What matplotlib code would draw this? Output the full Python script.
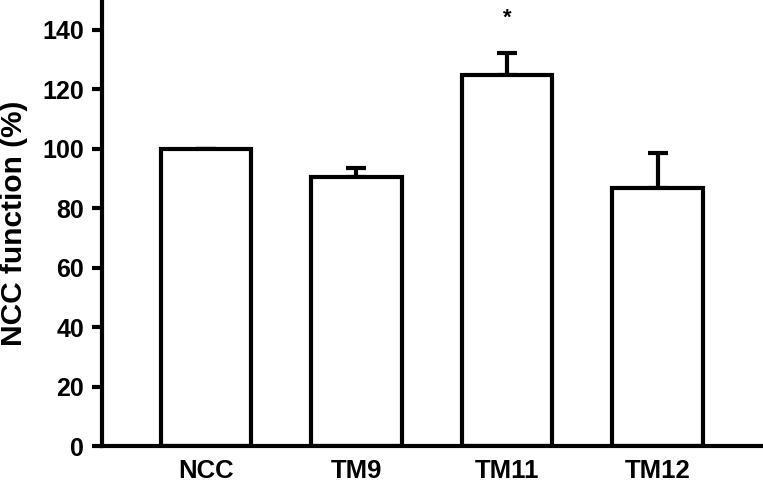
import matplotlib.pyplot as plt
import numpy as np

plt.rcParams['font.family'] = ['Liberation Sans', 'DejaVu Sans']
plt.rcParams['font.weight'] = 'bold'

groups = ["NCC", "TM9", "TM11", "TM12"]
means = [100, 90.5, 124.8, 86.8]
errors = [0, 3.1, 7.5, 11.8]
stars = ["", "", "*", ""]

fig = plt.figure(figsize=(7.63, 4.83), dpi=100)
ax = fig.add_axes([0.1337, 0.0766, 0.8663, 0.9234])

x = np.arange(len(groups))
ax.bar(x, means, width=0.6, color="white", edgecolor="black", linewidth=3, zorder=2)
ax.errorbar(x, means, yerr=[np.zeros(len(errors)), errors], fmt="none",
            ecolor="black", elinewidth=3, capsize=7, capthick=3, zorder=1)

for xi, m, e, s in zip(x, means, errors, stars):
    if s:
        ax.text(xi, m + e + 8, s, ha="center", va="bottom", fontsize=16, fontweight="bold")

ax.set_xlim(-0.69, 3.70)
ax.set_ylim(0, 150)
ax.set_yticks(np.arange(0, 141, 20))
ax.set_xticks(x)
ax.set_xticklabels(groups)
ax.set_ylabel("NCC function (%)", fontsize=21.5, fontweight="bold", labelpad=10)

ax.spines["top"].set_visible(False)
ax.spines["right"].set_visible(False)
ax.spines["left"].set_linewidth(3)
ax.spines["bottom"].set_linewidth(3)
ax.tick_params(axis="y", direction="out", length=7, width=3, labelsize=18, pad=6)
ax.tick_params(axis="x", length=0, labelsize=18.5, pad=9)
for lab in ax.get_xticklabels() + ax.get_yticklabels():
    lab.set_fontweight("bold")

fig.savefig("out.png", dpi=100)
